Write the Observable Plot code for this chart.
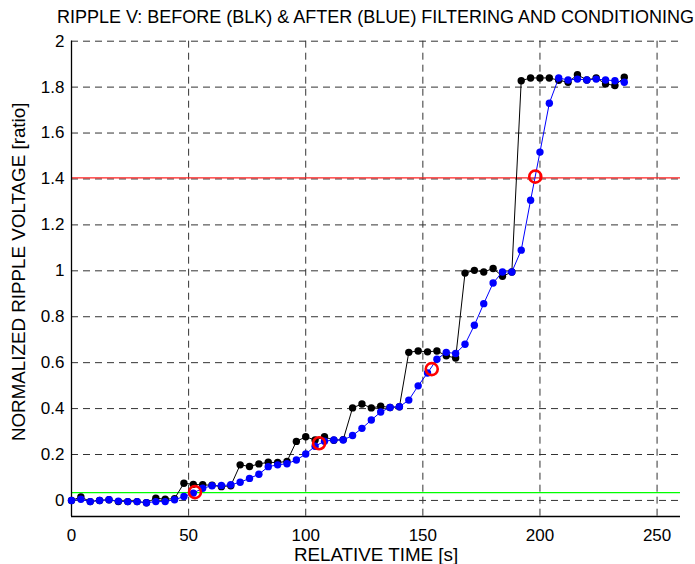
<!DOCTYPE html>
<html><head><meta charset="utf-8">
<script src="https://cdn.jsdelivr.net/npm/d3@7"></script>
<script src="https://cdn.jsdelivr.net/npm/@observablehq/plot@0.6"></script>
<style>
body{margin:0;background:#fff;font-family:"Liberation Sans",Arial,sans-serif;}
#title{box-sizing:border-box;height:30px;padding-top:7px;line-height:20px;width:609px;margin-left:71px;display:flex;justify-content:center;white-space:nowrap;font-size:18px;color:#000;}
</style></head><body>
<div id="title">RIPPLE V: BEFORE (BLK) &amp; AFTER (BLUE) FILTERING AND CONDITIONING</div>
<div id="chart"></div>
<script>
const time = [0,4,8,12,16,20,24,28,32,36,40,44,48,52,56,60,64,68,72,76,80,84,88,92,96,100,104,108,112,116,120,124,128,132,136,140,144,148,152,156,160,164,168,172,176,180,184,188,192,196,200,204,208,212,216,220,224,228,232,236];
const before = [0,0.015,-0.005,0,0.003,-0.005,-0.005,-0.005,-0.01,0.01,0.005,0.008,0.075,0.07,0.068,0.066,0.06,0.064,0.155,0.148,0.159,0.166,0.165,0.17,0.257,0.277,0.263,0.277,0.262,0.265,0.403,0.42,0.403,0.41,0.405,0.408,0.645,0.651,0.647,0.651,0.63,0.62,0.99,1.002,0.995,1.01,0.976,0.995,1.828,1.84,1.84,1.84,1.83,1.821,1.854,1.831,1.84,1.814,1.807,1.843];
const after = [0,0.005,-0.005,0,0.003,-0.003,-0.005,-0.005,-0.01,-0.005,-0.005,0.003,0.017,0.032,0.053,0.064,0.065,0.068,0.079,0.096,0.114,0.147,0.155,0.16,0.176,0.202,0.236,0.258,0.263,0.263,0.283,0.314,0.35,0.385,0.405,0.408,0.437,0.499,0.555,0.615,0.645,0.64,0.68,0.763,0.857,0.947,0.995,0.995,1.09,1.307,1.517,1.73,1.84,1.831,1.835,1.831,1.835,1.831,1.828,1.821];
const markerTimes = [52.7,105.7,153.8,198];
const markerValues = [0.036,0.249,0.572,1.41];
const xTicks = [0,50,100,150,200,250];
const yTicks = [0,0.2,0.4,0.6,0.8,1,1.2,1.4,1.6,1.8,2];
const xDomain = [0,260];
const yDomain = [-0.07,2];
const upperLimit = [1.405];
const lowerLimit = [0.034];
const xLabel = "RELATIVE TIME [s]";
const yLabel = "NORMALIZED RIPPLE VOLTAGE [ratio]";

const beforeData = time.map((t,i)=>({t, v: before[i]}));
const afterData = time.map((t,i)=>({t, v: after[i]}));
const markers = markerTimes.map((t,i)=>({t, v: markerValues[i]}));

const gridStyle = {stroke:"#333", strokeOpacity:1, strokeWidth:1, strokeDasharray:"7,5"};
const chart = Plot.plot({
  width:695, height:534,
  marginLeft:71, marginRight:15, marginTop:10.7, marginBottom:48,
  x:{domain:xDomain},
  y:{domain:yDomain},
  style:{fontFamily:"'Liberation Sans', Arial, sans-serif", fontSize:"17px", background:"#fff", color:"#000", overflow:"visible"},
  marks:[
    Plot.gridX(xTicks, gridStyle),
    Plot.gridY(yTicks, gridStyle),
    Plot.ruleY(lowerLimit, {stroke:"#00ff00", strokeWidth:1.3}),
    Plot.ruleY(upperLimit, {stroke:"#ff2020", strokeWidth:1.2}),
    Plot.axisX(xTicks, {tickSize:0, tickPadding:12, label:null, fontSize:17}),
    Plot.axisY(yTicks, {tickSize:0, tickPadding:7, label:null, fontSize:17, tickFormat:d=>String(+d.toFixed(1))}),
    Plot.ruleX([xDomain[0]], {stroke:"#000", strokeWidth:1.3}),
    Plot.ruleY([yDomain[0]], {stroke:"#000", strokeWidth:1.3}),
    Plot.text([xLabel], {frameAnchor:"bottom", dy:38, textAnchor:"middle", lineAnchor:"middle", fontSize:18.8}),
    Plot.text([yLabel], {frameAnchor:"left", dx:-53, dy:-7, rotate:-90, textAnchor:"middle", lineAnchor:"middle", fontSize:18.8}),
    Plot.line(beforeData, {x:"t", y:"v", stroke:"#000", strokeWidth:1}),
    Plot.dot(beforeData, {x:"t", y:"v", fill:"#000", r:3.7}),
    Plot.line(afterData, {x:"t", y:"v", stroke:"#0000ff", strokeWidth:1}),
    Plot.dot(afterData, {x:"t", y:"v", fill:"#0000ff", r:3.7}),
    Plot.dot(markers, {x:"t", y:"v", stroke:"#ff0000", fill:"none", r:6, strokeWidth:2.6})
  ]
});
document.getElementById("chart").appendChild(chart);
</script>
</body></html>
